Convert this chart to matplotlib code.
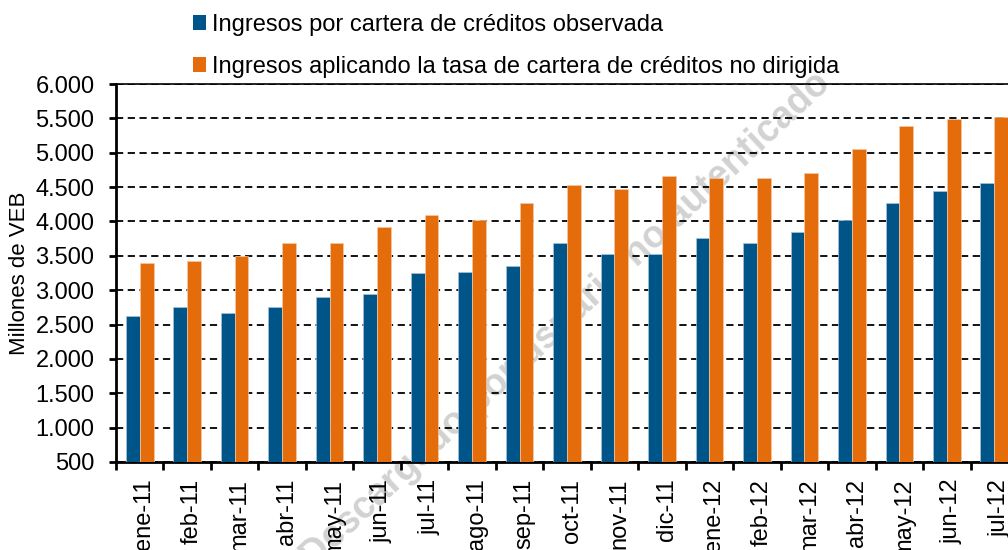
import matplotlib
matplotlib.use("Agg")
import matplotlib.pyplot as plt
from matplotlib.patches import Patch
import numpy as np

plt.rcParams['font.family'] = ['Liberation Sans', 'DejaVu Sans']

categories = ["ene-11", "feb-11", "mar-11", "abr-11", "may-11", "jun-11", "jul-11",
              "ago-11", "sep-11", "oct-11", "nov-11", "dic-11", "ene-12", "feb-12",
              "mar-12", "abr-12", "may-12", "jun-12", "jul-12"]
observada = [2620, 2750, 2670, 2750, 2900, 2945, 3245, 3265, 3350, 3680, 3525, 3525,
             3760, 3680, 3840, 4015, 4270, 4450, 4555]
no_dirigida = [3400, 3425, 3500, 3680, 3680, 3915, 4095, 4015, 4270, 4530, 4475, 4655,
               4630, 4630, 4705, 5050, 5390, 5485, 5520]
yticks = [500, 1000, 1500, 2000, 2500, 3000, 3500, 4000, 4500, 5000, 5500, 6000]
ytick_labels = ["500", "1.000", "1.500", "2.000", "2.500", "3.000", "3.500", "4.000",
                "4.500", "5.000", "5.500", "6.000"]
series_names = ["Ingresos por cartera de créditos observada",
                "Ingresos aplicando la tasa de cartera de créditos no dirigida"]

blue = "#005588"
orange = "#E46C0A"

W, H = 1008, 550
fig = plt.figure(figsize=(W / 100, H / 100), dpi=100)
ax = fig.add_axes([116 / W, (H - 462) / H, 902 / W, 378 / H])
ax.patch.set_alpha(0)

# watermark behind everything
fig.text(566 / W, 1 - 320 / H, "Descargado por usuario no autenticado",
         rotation=43, ha="center", va="center", fontsize=27, fontweight="bold",
         color="#cacaca", alpha=0.85, zorder=-1)

x = np.arange(len(categories))
bw = 0.29
ax.bar(x - bw / 2, observada, width=bw, color=blue, edgecolor="#a9c4d9",
       linewidth=0.5, zorder=3)
ax.bar(x + bw / 2, no_dirigida, width=bw, color=orange, edgecolor="#f6c9a5",
       linewidth=0.5, zorder=3)

ax.set_xlim(-0.5, len(categories) - 0.5)
ax.set_ylim(500, 6000)
ax.set_yticks(yticks)
ax.set_yticklabels(ytick_labels, fontsize=17)
# label positions nudged slightly right of the group centres, as in the source
ax.set_xticks(x + 0.1)
ax.set_xticklabels(categories, rotation=90, fontsize=17, va="top", ha="center")
ax.set_xticks(np.arange(len(categories) + 1) - 0.5, minor=True)
ax.tick_params(axis="x", which="major", length=0, pad=12)
ax.tick_params(axis="x", which="minor", length=6, width=2, direction="out")
ax.tick_params(axis="y", length=5, width=2, direction="out", pad=10.5)

ax.yaxis.grid(True, color="black", linestyle=(0, (4, 2.5)), linewidth=1.3, zorder=1)
ax.set_axisbelow(True)

ax.spines["left"].set_linewidth(2)
ax.spines["bottom"].set_linewidth(2)
ax.spines["top"].set_linewidth(1.2)
ax.spines["right"].set_visible(False)

ax.set_ylabel("Millones de VEB", fontsize=16, labelpad=4)

handles = [Patch(facecolor=blue, edgecolor="none"), Patch(facecolor=orange, edgecolor="none")]
fig.legend(handles, series_names, loc="upper left", bbox_to_anchor=(188 / W, 1 - 9 / H),
           frameon=False, fontsize=17, handlelength=0.55, handleheight=0.6,
           handletextpad=0.25, labelspacing=0.85, borderpad=0.2, borderaxespad=0)

fig.savefig("out.png", dpi=100)
